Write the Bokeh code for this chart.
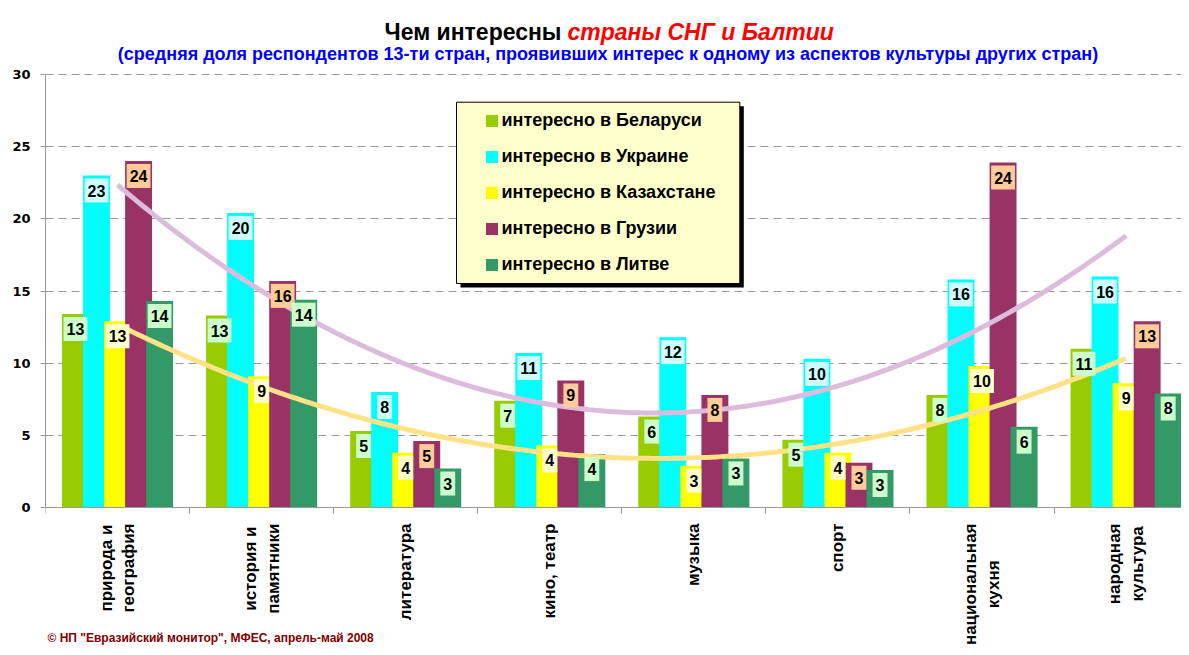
import numpy as np
from bokeh.plotting import figure
from bokeh.models import (ColumnDataSource, Range1d, FixedTicker, Legend, LegendItem,
                          BoxAnnotation, Label)
from bokeh.core.properties import value
from bokeh.embed import file_html
from bokeh.resources import INLINE

# ---------------- data ----------------
categories = ["природа и\nгеография", "история и\nпамятники", "литература", "кино, театр",
              "музыка", "спорт", "национальная\nкухня", "народная\nкультура"]
belarus = [13.4, 13.3, 5.3, 7.4, 6.3, 4.7, 7.8, 11.0]
ukraine = [23.0, 20.4, 8.0, 10.7, 11.8, 10.3, 15.8, 16.0]
kazakhstan = [12.9, 9.1, 3.8, 4.3, 2.9, 3.8, 9.8, 8.6]
georgia = [24.0, 15.7, 4.6, 8.8, 7.8, 3.1, 23.9, 12.9]
lithuania = [14.3, 14.4, 2.7, 3.7, 3.4, 2.6, 5.6, 7.9]
series_names = ["интересно в Беларуси", "интересно в Украине", "интересно в Казахстане",
                "интересно в Грузии", "интересно в Литве"]
y_ticks = [0, 5, 10, 15, 20, 25, 30]

title_black = "Чем интересны"
title_red = "страны СНГ и Балтии"
subtitle = "(средняя доля респондентов 13-ти стран, проявивших интерес к одному из аспектов культуры других стран)"
footer = "© НП \"Евразийский монитор\", МФЕС, апрель-май 2008"

# ---------------- style ----------------
bar_colors = ["#99CC00", "#00FFFF", "#FFFF00", "#993366", "#339966"]
label_colors = ["#CCFFCC", "#CCFFFF", "#FFFFCC", "#FFCC99", "#CCFFCC"]
FONT = "Liberation Sans"
GREY = "#999999"

W, H = 1181, 647
LEFT = 45            # y axis position (px)
ZERO = 507           # pixel row of value 0
PX_Y = 433 / 30      # pixels per percent
PX_X = 144.08        # pixels per category slot

p = figure(width=W, height=H, output_backend="svg", toolbar_location=None,
           x_range=Range1d(0.5, 0.5 + (W - LEFT) / PX_X),
           y_range=Range1d(-(H - ZERO) / PX_Y, ZERO / PX_Y),
           min_border_left=LEFT, min_border_right=0, min_border_top=0, min_border_bottom=0)
p.outline_line_color = None
p.background_fill_color = "white"
p.border_fill_color = "white"

xs = np.arange(1, len(categories) + 1)
step = 0.146
offsets = [-2 * step, -step, 0.0, step, 2 * step]
all_series = [belarus, ukraine, kazakhstan, georgia, lithuania]

renderers, sources = [], []
for vals, col, off in zip(all_series, bar_colors, offsets):
    src = ColumnDataSource(dict(x=xs + off, top=vals, lab=[f"{v:.0f}" for v in vals]))
    r = p.vbar(x="x", top="top", bottom=0, width=0.187, source=src,
               fill_color=col, line_color=None)
    renderers.append(r)
    sources.append(src)

# polynomial (order 2) trendlines for Georgia and Kazakhstan
xx = np.linspace(xs[0], xs[-1], 200)
for vals, col in [(georgia, "#DDBBDD"), (kazakhstan, "#FFE285")]:
    coef = np.polyfit(xs, vals, 2)
    p.line(xx, np.polyval(coef, xx), line_color=col, line_width=5)

# data labels
for src, bg in zip(sources, label_colors):
    p.text(x="x", y="top", text="lab", source=src, anchor="top_center", y_offset=3,
           text_font=value(FONT), text_font_style="bold", text_font_size="16px",
           text_color="black", background_fill_color=bg, border_line_color=None,
           padding=dict(left=3, right=3, top=6, bottom=6))

# x axis drawn at value 0 inside the frame (ticks between categories)
p.xaxis.fixed_location = 0
p.xaxis.ticker = FixedTicker(ticks=[int(v) for v in xs], minor_ticks=[float(v) - 0.5 for v in xs])
p.xaxis.axis_line_color = GREY
p.xaxis.major_tick_line_color = None
p.xaxis.minor_tick_line_color = GREY
p.xaxis.minor_tick_out = 6
p.xaxis.minor_tick_in = 0
p.xaxis.major_label_text_font_size = "0px"
p.xaxis.major_label_text_alpha = 0

# category labels: vertical, top-anchored, lines centred
cat_src = ColumnDataSource(dict(x=xs, y=np.zeros(len(xs)), text=categories))
p.text(x="x", y="y", text="text", source=cat_src, angle=np.pi / 2, anchor="center_right",
       text_align="center", y_offset=16, text_font=value(FONT), text_font_style="bold",
       text_font_size="17px", text_color="black", text_line_height=1.2)

p.yaxis.ticker = FixedTicker(ticks=y_ticks)
p.yaxis.bounds = (0, 30)
p.yaxis.axis_line_color = GREY
p.yaxis.major_tick_line_color = GREY
p.yaxis.major_tick_out = 5
p.yaxis.major_tick_in = 0
p.yaxis.minor_tick_line_color = None
p.yaxis.major_label_standoff = 10
p.yaxis.major_label_text_font = "DejaVu Sans"
p.yaxis.major_label_text_font_style = "bold"
p.yaxis.major_label_text_font_size = "13px"
p.yaxis.major_label_text_color = "black"

p.xgrid.visible = False
p.ygrid.ticker = FixedTicker(ticks=y_ticks)
p.ygrid.grid_line_color = GREY
p.ygrid.grid_line_dash = "8 5"


# legend box with shadow (pixel rectangle converted to data units)
def bx(px):
    return 0.5 + (px - LEFT) / PX_X


def by(py):
    return (ZERO - py) / PX_Y


p.add_layout(BoxAnnotation(left=bx(460), right=bx(743.3), top=by(105.7), bottom=by(287),
                           fill_color="black", fill_alpha=1, line_color=None))
p.add_layout(BoxAnnotation(left=bx(456), right=bx(739.3), top=by(101.7), bottom=by(283),
                           fill_color="#FFFFCC", fill_alpha=1, line_color="black",
                           line_alpha=1, line_width=1))
legend = Legend(items=[LegendItem(label=n, renderers=[r]) for n, r in zip(series_names, renderers)],
                location=(438.5, H - 275), orientation="vertical",
                background_fill_alpha=0, border_line_color=None, padding=0, margin=0,
                spacing=14, glyph_width=15, glyph_height=15, label_height=22, label_standoff=3,
                label_text_font=FONT, label_text_font_style="bold", label_text_font_size="18px",
                label_text_color="black")
p.add_layout(legend, "center")

# titles and footer (screen units, relative to the frame's bottom-left)
p.add_layout(Label(x=516, y=H - 31.7, x_units="screen", y_units="screen", text=title_black,
                   text_align="right", text_baseline="alphabetic", text_font=FONT,
                   text_font_style="bold", text_font_size="23px", text_color="black"))
p.add_layout(Label(x=522, y=H - 31.7, x_units="screen", y_units="screen", text=title_red,
                   text_align="left", text_baseline="alphabetic", text_font=FONT,
                   text_font_style="bold italic", text_font_size="23px", text_color="#FF0000"))
p.add_layout(Label(x=562.5, y=H - 53.3, x_units="screen", y_units="screen", text=subtitle,
                   text_align="center", text_baseline="alphabetic", text_font=FONT,
                   text_font_style="bold", text_font_size="18px", text_color="#0000FF"))
p.add_layout(Label(x=2, y=10, x_units="screen", y_units="screen", text=footer,
                   text_align="left", text_baseline="alphabetic", text_font=FONT,
                   text_font_style="bold", text_font_size="12px", text_color="#800000"))

open("out.html", "w").write(file_html(p, INLINE))
